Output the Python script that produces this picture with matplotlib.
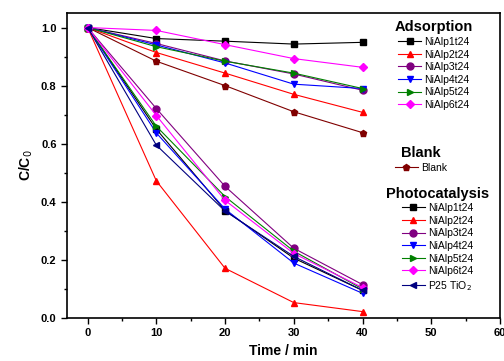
import matplotlib.pyplot as plt
import numpy as np

t = [0, 10, 20, 30, 40]

# adsorption (dark)
ads_names = ['NiAlp1t24', 'NiAlp2t24', 'NiAlp3t24', 'NiAlp4t24', 'NiAlp5t24', 'NiAlp6t24']
ads_vals = [
    [1.0, 0.962, 0.953, 0.943, 0.949],
    [1.0, 0.914, 0.843, 0.770, 0.708],
    [1.0, 0.945, 0.885, 0.840, 0.784],
    [1.0, 0.940, 0.878, 0.805, 0.790],
    [1.0, 0.934, 0.884, 0.843, 0.790],
    [1.0, 0.990, 0.941, 0.893, 0.863],
]
blank_vals = [1.0, 0.884, 0.800, 0.710, 0.638]

# photocatalysis
pc_names = ['NiAlp1t24', 'NiAlp2t24', 'NiAlp3t24', 'NiAlp4t24', 'NiAlp5t24', 'NiAlp6t24', 'P25 TiO$_2$']
pc_vals = [
    [1.0, 0.650, 0.370, 0.206, 0.095],
    [1.0, 0.472, 0.171, 0.053, 0.022],
    [1.0, 0.721, 0.453, 0.240, 0.115],
    [1.0, 0.637, 0.375, 0.189, 0.085],
    [1.0, 0.660, 0.418, 0.230, 0.100],
    [1.0, 0.697, 0.405, 0.222, 0.105],
    [1.0, 0.595, 0.368, 0.212, 0.095],
]

colors = ['black', 'red', '#800080', 'blue', 'green', 'magenta', 'navy']
markers = ['s', '^', 'o', 'v', '>', 'D', '<']

plt.rcParams['font.family'] = ['Liberation Sans', 'DejaVu Sans']
fig = plt.figure(figsize=(5.04, 3.61), dpi=100)
ax = fig.add_axes([67/504, 43/361, 433/504, 305/361])

ms = 5
ads_h = []
for i in range(6):
    l, = ax.plot(t, ads_vals[i], color=colors[i], marker=markers[i], lw=0.8,
                 ms=ms if markers[i] != 'D' else 4.5, label=ads_names[i])
    ads_h.append(l)
bl, = ax.plot(t, blank_vals, color='#800000', marker='p', lw=0.8, ms=ms, label='Blank')
pc_h = []
for i in range(7):
    l, = ax.plot(t, pc_vals[i], color=colors[i], marker=markers[i], lw=0.8,
                 ms=ms if markers[i] != 'D' else 4.5, label=pc_names[i])
    pc_h.append(l)

ax.set_xlim(-3, 60)
ax.set_ylim(0, 1.05)
ax.set_xticks([0, 10, 20, 30, 40, 50, 60])
ax.set_xticks(np.arange(5, 60, 10), minor=True)
ax.set_yticks([0.0, 0.2, 0.4, 0.6, 0.8, 1.0])
ax.set_yticks([0.1, 0.3, 0.5, 0.7, 0.9], minor=True)
ax.yaxis.set_major_formatter(plt.FormatStrFormatter('%.1f'))
ax.tick_params(which='both', direction='out', width=1.0)
ax.tick_params(which='major', length=4, labelsize=8)
ax.tick_params(which='minor', length=2.5)
for lab in ax.get_xticklabels() + ax.get_yticklabels():
    lab.set_fontweight('bold')
for s in ax.spines.values():
    s.set_linewidth(1.2)

ax.set_xlabel('Time / min', fontsize=10, fontweight='bold')
ax.set_ylabel('C/C$_0$', fontsize=10, fontweight='bold')

kw = dict(frameon=False, fontsize=7.5, handlelength=2.2, handletextpad=0.3,
          labelspacing=0.25, borderpad=0.2, title_fontproperties={'weight': 'bold', 'size': 10.5})
leg1 = ax.legend(handles=ads_h, title='Adsorption', loc='upper left', bbox_to_anchor=(0.74, 1.0), **kw)
ax.add_artist(leg1)
leg2 = ax.legend(handles=[bl], title='Blank', loc='upper left', bbox_to_anchor=(0.74, 0.588), **kw)
ax.add_artist(leg2)
leg3 = ax.legend(handles=pc_h, title='Photocatalysis', loc='upper left', bbox_to_anchor=(0.72, 0.455), **kw)

fig.savefig('out.png', dpi=100)
